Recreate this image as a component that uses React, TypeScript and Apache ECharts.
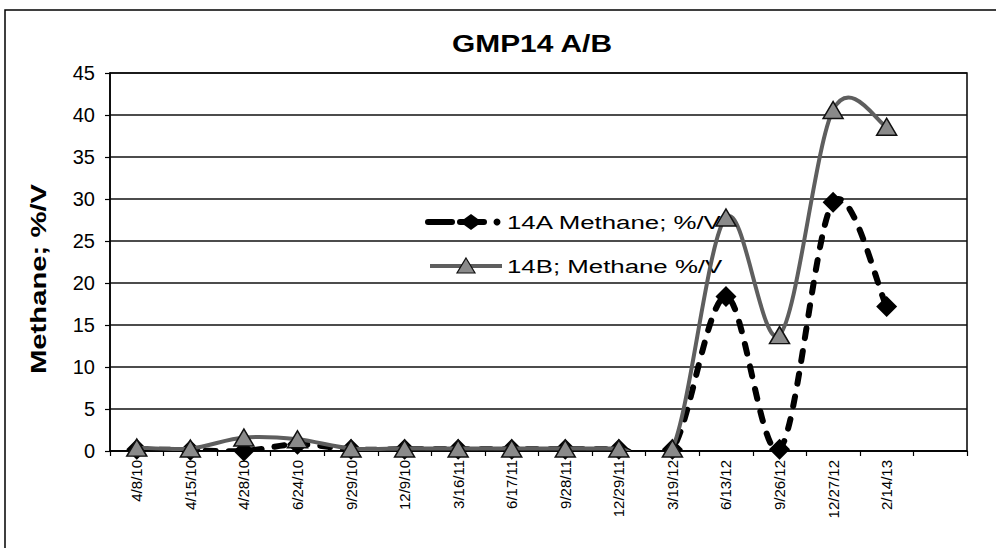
import React, { useEffect, useRef } from "react";
import * as echarts from "echarts";

const titleText = "GMP14 A/B";
const yAxisTitle = "Methane; %/V";
const seriesNames = ["14A Methane; %/V", "14B; Methane %/V"];
const categories = [
  "4/8/10", "4/15/10", "4/28/10", "6/24/10", "9/29/10", "12/9/10", "3/16/11",
  "6/17/11", "9/28/11", "12/29/11", "3/19/12", "6/13/12", "9/26/12", "12/27/12",
  "2/14/13", "",
];
const methane14A = [0.2, 0.1, 0.0, 0.8, 0.2, 0.2, 0.2, 0.2, 0.2, 0.2, 0.2, 18.4, 0.2, 29.6, 17.2];
const methane14B = [0.4, 0.3, 1.6, 1.4, 0.3, 0.3, 0.3, 0.3, 0.3, 0.3, 0.3, 27.8, 13.8, 40.6, 38.6];
const yMin = 0;
const yMax = 45;
const yStep = 5;

const FONT = "'Liberation Sans', Arial, Helvetica, sans-serif";
const GRAY_LINE = "#5e5e5e";

// Excel-like smoothed line (Catmull-Rom -> cubic Bezier) drawn through the chart's own scales
function smoothRenderer(
  values: number[],
  stroke: string,
  lineWidth: number,
  lineDash: number[] | null,
  lineCap: string
) {
  return (params: any, api: any) => {
    if (params.dataIndex !== 0) return null;
    const pts: number[][] = values.map((v, i) => api.coord([i, v]));
    let d = `M${pts[0][0]},${pts[0][1]}`;
    for (let i = 0; i < pts.length - 1; i++) {
      const p0 = pts[Math.max(0, i - 1)];
      const p1 = pts[i];
      const p2 = pts[i + 1];
      const p3 = pts[Math.min(pts.length - 1, i + 2)];
      const c1x = p1[0] + (p2[0] - p0[0]) / 6;
      const c1y = p1[1] + (p2[1] - p0[1]) / 6;
      const c2x = p2[0] - (p3[0] - p1[0]) / 6;
      const c2y = p2[1] - (p3[1] - p1[1]) / 6;
      d += ` C${c1x},${c1y} ${c2x},${c2y} ${p2[0]},${p2[1]}`;
    }
    return {
      type: "path",
      shape: { pathData: d },
      style: {
        fill: "none",
        stroke,
        lineWidth,
        lineDash: lineDash || undefined,
        lineCap,
      },
      silent: true,
    };
  };
}

export default function App() {
  const ref = useRef<HTMLDivElement>(null);
  useEffect(() => {
    if (!ref.current) return;
    const chart = echarts.init(ref.current, undefined, { renderer: "svg" });
    const legendY1 = 222;
    const legendY2 = 266;
    chart.setOption({
      animation: false,
      backgroundColor: "#ffffff",
      textStyle: { fontFamily: FONT },
      grid: {
        left: 110,
        right: 29,
        top: 73,
        bottom: 97,
        show: true,
        borderColor: "#000",
        borderWidth: 1.5,
        outerBoundsMode: "none",
      },
      xAxis: {
        type: "category",
        data: categories,
        boundaryGap: true,
        axisLine: { lineStyle: { color: "#000", width: 1.5 } },
        axisTick: { show: true, interval: 0, length: 5, lineStyle: { color: "#000", width: 1.2 } },
        axisLabel: {
          interval: 0,
          rotate: 90,
          margin: 9,
          color: "#000",
          fontSize: 15,
          fontFamily: FONT,
        },
        splitLine: { show: false },
      },
      yAxis: {
        type: "value",
        min: yMin,
        max: yMax,
        interval: yStep,
        axisLine: { show: true, lineStyle: { color: "#000", width: 1.5 } },
        axisTick: { show: true, length: 5, lineStyle: { color: "#000", width: 1.2 } },
        axisLabel: { color: "#000", fontSize: 20, margin: 15, fontFamily: FONT },
        splitLine: { show: true, lineStyle: { color: "#111", width: 1.5 } },
      },
      series: [
        {
          name: seriesNames[0] + " line",
          type: "custom",
          data: methane14A.map((v, i) => [i, v]),
          encode: { x: 0, y: 1 },
          renderItem: smoothRenderer(methane14A, "#000", 6, [10, 13], "round"),
          clip: true,
          z: 2,
        },
        {
          name: seriesNames[0],
          type: "scatter",
          data: methane14A,
          symbol: "diamond",
          symbolSize: [21, 21],
          itemStyle: { color: "#000", opacity: 1 },
          z: 3,
        },
        {
          name: seriesNames[1] + " line",
          type: "custom",
          data: methane14B.map((v, i) => [i, v]),
          encode: { x: 0, y: 1 },
          renderItem: smoothRenderer(methane14B, GRAY_LINE, 4, null, "round"),
          clip: true,
          z: 4,
        },
        {
          name: seriesNames[1],
          type: "scatter",
          data: methane14B,
          symbol: "triangle",
          symbolSize: [20, 17],
          itemStyle: { color: "#8a8a8a", borderColor: "#111", borderWidth: 1.5, opacity: 1 },
          z: 5,
        },
      ],
      graphic: [
        {
          type: "rect",
          shape: { x: 5, y: 10, width: 1200, height: 700 },
          style: { fill: "none", stroke: "#000", lineWidth: 1.5 },
          silent: true,
        },
        {
          type: "text",
          x: 532,
          y: 44,
          scaleX: 1.3,
          style: {
            text: titleText,
            font: `bold 23px ${FONT}`,
            fill: "#000",
            textAlign: "center",
            textVerticalAlign: "middle",
          },
        },
        {
          type: "text",
          x: 38,
          y: 279,
          rotation: Math.PI / 2,
          scaleX: 1.33,
          style: {
            text: yAxisTitle,
            font: `bold 22px ${FONT}`,
            fill: "#000",
            textAlign: "center",
            textVerticalAlign: "middle",
          },
        },
        // legend item 1
        {
          type: "line",
          shape: { x1: 428, y1: legendY1, x2: 452, y2: legendY1 },
          style: { stroke: "#000", lineWidth: 6, lineCap: "round" },
        },
        {
          type: "line",
          shape: { x1: 460, y1: legendY1, x2: 484, y2: legendY1 },
          style: { stroke: "#000", lineWidth: 6, lineCap: "round" },
        },
        {
          type: "polygon",
          shape: {
            points: [
              [471, legendY1 - 8],
              [482, legendY1],
              [471, legendY1 + 8],
              [460, legendY1],
            ],
          },
          style: { fill: "#000" },
        },
        {
          type: "circle",
          shape: { cx: 497, cy: legendY1, r: 3.5 },
          style: { fill: "#000" },
        },
        {
          type: "text",
          x: 507,
          y: legendY1,
          scaleX: 1.36,
          style: {
            text: seriesNames[0],
            font: `19px ${FONT}`,
            fill: "#000",
            textAlign: "left",
            textVerticalAlign: "middle",
          },
        },
        // legend item 2
        {
          type: "line",
          shape: { x1: 430, y1: legendY2, x2: 502, y2: legendY2 },
          style: { stroke: GRAY_LINE, lineWidth: 4 },
        },
        {
          type: "polygon",
          shape: {
            points: [
              [466, legendY2 - 8],
              [475, legendY2 + 7],
              [457, legendY2 + 7],
            ],
          },
          style: { fill: "#8a8a8a", stroke: "#111", lineWidth: 1.2 },
        },
        {
          type: "text",
          x: 507,
          y: legendY2,
          scaleX: 1.36,
          style: {
            text: seriesNames[1],
            font: `19px ${FONT}`,
            fill: "#000",
            textAlign: "left",
            textVerticalAlign: "middle",
          },
        },
      ],
    });
    return () => chart.dispose();
  }, []);
  return (
    <div
      ref={ref}
      style={{ position: "fixed", left: 0, top: 0, width: 996, height: 548, background: "#fff" }}
    />
  );
}
